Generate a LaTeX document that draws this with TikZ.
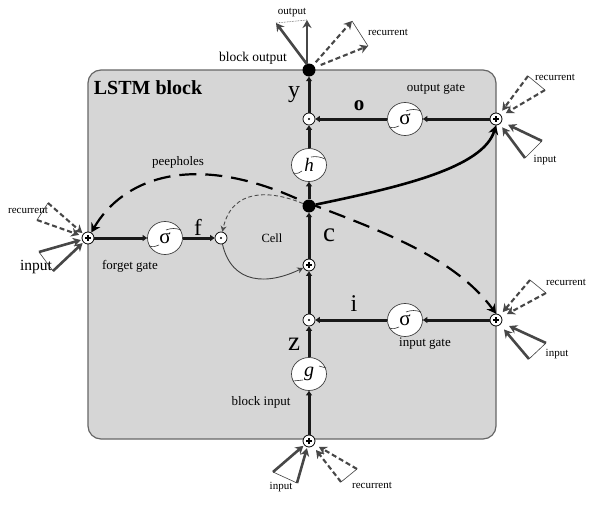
\documentclass[tikz,border=0pt]{standalone}
\usepackage{fontspec}
\setmainfont{Liberation Serif}
\usetikzlibrary{arrows.meta,calc,shapes.geometric}
\newcommand{\fs}[1]{\fontsize{#1}{#1}\selectfont}
\tikzset{
  x=1pt,y=-1pt,
  lbl/.style={inner sep=0pt,font=\fs{#1}},
  lbl/.default=11,
  sumnode/.style={circle,draw=black,fill=white,line width=0.8pt,minimum size=12pt,inner sep=0pt,
     path picture={\draw[line width=1.2pt,black] (-3,0)--(3,0) (0,-3)--(0,3);}},
  prodnode/.style={circle,draw=black,fill=white,line width=0.7pt,minimum size=12pt,inner sep=0pt,
     path picture={\fill[black] (0,0) circle (1.2);}},
  blacknode/.style={circle,fill=black,minimum size=13pt,inner sep=0pt},
  gatenode/.style={ellipse,draw=black!75,fill=white,line width=0.7pt,minimum width=35pt,minimum height=33pt,inner sep=0pt,font=\fs{21}},
  mainline/.style={line width=3pt,black!90,-{Stealth[length=4.5pt,width=6pt,inset=0pt]}},
  inarrow/.style={line width=2.6pt,black!72,-{Stealth[length=8pt,width=9pt]}},
  recarrow/.style={line width=2.1pt,black!72,dash pattern=on 5pt off 3pt,-{Stealth[length=8pt,width=9pt]}},
  thinlink/.style={line width=0.6pt,black!75},
  gatetick/.style={line width=0.6pt,black!80},
}
\begin{document}
\begin{tikzpicture}
\useasboundingbox (0,0) rectangle (598,506);
\fill[white] (0,0) rectangle (598,506);
\draw[fill=black!16,draw=black!60,line width=1.2pt,rounded corners=13pt] (88,70) rectangle (496,439);

% nodes
\node[blacknode] (out) at (309,70) {};
\node[prodnode] (py) at (309,119) {};
\node[gatenode] (h) at (309,165) {\fs{19}\itshape h};
\node[blacknode] (cdot) at (309,206) {};
\node[sumnode] (cplus) at (309,265) {};
\node[prodnode] (pi) at (309,320) {};
\node[gatenode] (g) at (309,374) {\fs{20}\itshape g};
\node[sumnode] (sb) at (309,441) {};
\node[gatenode] (so) at (405,119) {σ};
\node[sumnode] (po) at (496,119) {};
\node[gatenode] (si) at (405,320) {σ};
\node[sumnode] (pin) at (496,320) {};
\node[sumnode] (pf) at (88,238) {};
\node[gatenode] (sf) at (165,238) {σ};
\node[prodnode] (pd) at (221,238) {};

% gate ticks
\foreach \n in {so,si,sf}{
 \draw[gatetick] ($(\n)+(1,-8)$) .. controls ($(\n)+(6,-10)$) and ($(\n)+(11,-10)$) .. ($(\n)+(16,-8)$);
 \draw[gatetick] ($(\n)+(-16,8)$) .. controls ($(\n)+(-12,9)$) and ($(\n)+(-9,9)$) .. ($(\n)+(-6,7)$);
}
\draw[gatetick] ($(h)+(2,-8)$) .. controls ($(h)+(7,-9)$) and ($(h)+(12,-8)$) .. ($(h)+(16,-6)$);
\draw[gatetick] ($(h)+(-16,8)$) .. controls ($(h)+(-12,9)$) and ($(h)+(-9,8)$) .. ($(h)+(-7,6)$);
\draw[gatetick] ($(g)+(10,-8)$) -- ($(g)+(17,-6)$);
\draw[gatetick] ($(g)+(-16,7)$) -- ($(g)+(-6,6)$);

% main lines
\draw[mainline] (py) -- (out);
\draw[mainline] (h) -- (py);
\draw[mainline] (cdot) -- (h);
\draw[mainline] (cplus) -- (cdot);
\draw[mainline] (pi) -- (cplus);
\draw[mainline] (g) -- (pi);
\draw[mainline] (sb) -- (g);
\draw[mainline] (so) -- (py);
\draw[mainline] (po) -- (so);
\draw[mainline] (si) -- (pi);
\draw[mainline] (pin) -- (si);
\draw[mainline] (pf) -- (sf);
\draw[mainline] (sf) -- (pd);

% curves
\draw[line width=2.6pt,black,-{Stealth[length=9pt,width=10pt]}] (cdot) .. controls (400,187) and (483,168) .. (po.south);
\draw[line width=2.2pt,black,dash pattern=on 17pt off 9pt,{Stealth[length=9pt,width=10pt]}-{Stealth[length=9pt,width=10pt]}]
  (pf) .. controls (122,180) and (190,150) .. (300,200) .. controls (385,232) and (455,258) .. (pin.north);
\draw[line width=0.9pt,black!70,dash pattern=on 4pt off 2.5pt,-{Stealth[length=6pt,width=6pt]}] (cdot) .. controls (270,190) and (232,188) .. (pd);
\draw[line width=0.9pt,black!75,-{Stealth[length=6pt,width=6pt]}] (pd) .. controls (232,285) and (268,285) .. (cplus);

% free ends
\coordinate (o1) at (276,23); \coordinate (o2) at (307,20);
\coordinate (o3) at (352,21); \coordinate (o4) at (368,46);
\coordinate (l1) at (48,203); \coordinate (l2) at (37,220);
\coordinate (l3) at (39,252); \coordinate (l4) at (53,271);
\coordinate (r1) at (528,76); \coordinate (r2) at (545,90);
\coordinate (r3) at (542,141); \coordinate (r4) at (525,158);
\coordinate (q1) at (530,280); \coordinate (q2) at (546,293);
\coordinate (q3) at (546,343); \coordinate (q4) at (529,359);
\coordinate (b1) at (273,472); \coordinate (b2) at (297,483);
\coordinate (b3) at (357,469); \coordinate (b4) at (341,482);

\draw[inarrow] (out.north) ++(-2,1) -- (o1);
\draw[inarrow] (out.north) ++(-2,0) -- (o2);
\draw[recarrow] (out.north east) ++(2,-3) -- (o3);
\draw[recarrow] (out.east) ++(5,-5) -- (o4);
\draw[thinlink,densely dotted] (o1) -- (o2);
\draw[thinlink] (o3) -- (o4);

\draw[recarrow,shorten >=1pt] (l1) -- (pf);
\draw[recarrow,shorten >=3pt] (l2) -- (pf);
\draw[thinlink] (l1) -- (l2);
\draw[inarrow,shorten >=1pt] (l3) -- (pf);
\draw[inarrow,shorten >=1pt] (l4) -- (pf);
\draw[thinlink] (l3) -- (l4);

\draw[recarrow,shorten >=4pt] (r1) -- (po);
\draw[recarrow,shorten >=5pt] (r2) -- (po);
\draw[thinlink] (r1) -- (r2);
\draw[inarrow,shorten >=7pt] (r3) -- (po);
\draw[inarrow,shorten >=4pt] (r4) -- (po);
\draw[thinlink] (r3) -- (r4);

\draw[recarrow,shorten >=4pt] (q1) -- (pin);
\draw[recarrow,shorten >=6pt] (q2) -- (pin);
\draw[thinlink] (q1) -- (q2);
\draw[inarrow,shorten >=8pt] (q3) -- (pin);
\draw[inarrow,shorten >=6pt] (q4) -- (pin);
\draw[thinlink] (q3) -- (q4);

\draw[inarrow,shorten >=1pt] (b1) -- (sb);
\draw[inarrow,shorten >=1pt] (b2) -- (sb);
\draw[thinlink] (b1) -- (b2);
\draw[recarrow,shorten >=5pt] (b3) -- (sb);
\draw[recarrow,shorten >=5pt] (b4) -- (sb);
\draw[thinlink] (b3) -- (b4);

% labels
\node[lbl=20,font=\fs{20}\bfseries] (tblock) at (148,88) {LSTM block};
\node[lbl=13.5] (tbo) at (253,58) {block output};
\node[lbl=11] (t1) at (292,13) {output};
\node[lbl=11] (t2) at (388,32) {recurrent};
\node[lbl=24] (ty) at (294,95) {y};
\node[lbl=21,font=\fs{21}\bfseries] (to) at (359,106) {o};
\node[lbl=13] (t3) at (436,89) {output gate};
\node[lbl=11] (t4) at (555,77) {recurrent};
\node[lbl=11] (t5) at (545,160) {input};
\node[lbl=13] (t6) at (178,162) {peepholes};
\node[lbl=27,font=\fs{27}] (tc) at (329,235) {c};
\node[lbl=12.5] (t7) at (272,238) {Cell};
\node[lbl=23] (tf) at (198,227) {f};
\node[lbl=13] (t8) at (130,266) {forget gate};
\node[lbl=11] (t9) at (28,210) {recurrent};
\node[lbl=15.5] (t10) at (36,267) {input};
\node[lbl=24] (ti) at (354,304) {i};
\node[lbl=27] (tz) at (294,344) {z};
\node[lbl=13] (t11) at (425,344) {input gate};
\node[lbl=11] (t12) at (566,282) {recurrent};
\node[lbl=11] (t13) at (557,354) {input};
\node[lbl=13] (t14) at (261,402) {block input};
\node[lbl=11] (t15) at (281,487) {input};
\node[lbl=11] (t16) at (372,485) {recurrent};
\end{tikzpicture}
\end{document}
